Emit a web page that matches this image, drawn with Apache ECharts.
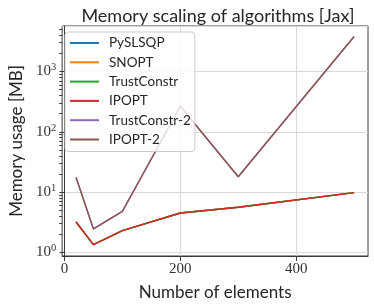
<!DOCTYPE html>
<html>
<head>
<meta charset="utf-8">
<script src="https://cdn.jsdelivr.net/npm/echarts@6/dist/echarts.min.js"></script>
<style>html,body{margin:0;padding:0;background:#fff}#c{width:374px;height:306px}</style>
</head>
<body>
<div id="c"></div>
<script>
const elements = [20, 50, 100, 200, 300, 500];
const pyslsqp = [3.2, 1.35, 2.3, 4.5, 5.6, 9.8];
const snopt = [3.2, 1.35, 2.3, 4.5, 5.6, 9.8];
const trustConstr = [3.2, 1.35, 2.3, 4.5, 5.6, 9.8];
const ipopt = [3.2, 1.35, 2.3, 4.5, 5.6, 9.8];
const trustConstr2 = [17.5, 2.45, 4.8, 265, 18, 3800];
const ipopt2 = [17.5, 2.45, 4.8, 265, 18, 3800];
const seriesNames = ['PySLSQP', 'SNOPT', 'TrustConstr', 'IPOPT', 'TrustConstr-2', 'IPOPT-2'];
const xTicks = [0, 200, 400];
const yMajor = [1, 10, 100, 1000];

const colors = ['#1f77b4', '#ff7f0e', '#2ca02c', '#d62728', '#9467bd', '#8c564b'];
const allSeries = [pyslsqp, snopt, trustConstr, ipopt, trustConstr2, ipopt2];
const yMin = 0.873, yMax = 5660;
const yMinor = [];
yMajor.forEach(d => { for (let k = 2; k <= 9; k++) { const v = k * d; if (v < yMax) yMinor.push(Math.log10(v)); } });

const chart = echarts.init(document.getElementById('c'), null, {renderer: 'canvas'});
const spine = '#3a3a3a';
const grid = '#d9d9d9';
const serif = '"Liberation Serif", "DejaVu Serif", serif';
const sans = 'Lato, "DejaVu Sans", sans-serif';

chart.setOption({
  animation: false,
  backgroundColor: '#fff',
  color: colors,
  title: {
    text: 'Memory scaling of algorithms [Jax]',
    left: 213, top: 2, textAlign: 'center',
    textStyle: {fontFamily: sans, fontSize: 18, fontWeight: 'normal', color: '#262626'}
  },
  grid: {left: 58, right: 6, top: 26, bottom: 50, show: true, borderColor: spine, borderWidth: 1, backgroundColor: 'transparent'},
  legend: {
    orient: 'vertical', left: 65, top: 32,
    data: seriesNames,
    icon: 'rect', itemWidth: 29, itemHeight: 2, itemGap: 3.3,
    padding: [3, 4, 4, 5],
    backgroundColor: 'rgba(255,255,255,0.8)', borderColor: '#cccccc', borderWidth: 1, borderRadius: 3,
    textStyle: {fontFamily: sans, fontSize: 13.5, lineHeight: 16, color: '#262626', padding: [0, 0, 0, 5]}
  },
  xAxis: {
    type: 'value', min: -4, max: 524,
    name: 'Number of elements', nameLocation: 'middle', nameGap: 28,
    nameTextStyle: {fontFamily: sans, fontSize: 17, color: '#262626'},
    axisLine: {show: true, onZero: false, lineStyle: {color: spine, width: 1}},
    axisTick: {show: true, length: 5, customValues: xTicks, lineStyle: {color: spine}},
    axisLabel: {customValues: xTicks, fontFamily: serif, fontSize: 15, color: '#333', margin: 6},
    splitLine: {show: true, lineStyle: {color: grid, width: 1}}
  },
  yAxis: [{
    type: 'log', logBase: 10, min: yMin, max: yMax,
    name: 'Memory usage [MB]', nameLocation: 'middle', nameGap: 36,
    nameTextStyle: {fontFamily: sans, fontSize: 17, color: '#262626'},
    axisLine: {show: true, lineStyle: {color: spine, width: 1}},
    axisTick: {show: true, length: 5, lineStyle: {color: spine}},
    axisLabel: {
      showMinLabel: false, showMaxLabel: false, margin: 6,
      formatter: v => '{b|10}{s|' + Math.round(Math.log10(v)) + '}',
      rich: {
        b: {fontFamily: serif, fontSize: 15, color: '#333'},
        s: {fontFamily: serif, fontSize: 10.5, color: '#333', padding: [0, 0, 8, 0]}
      }
    },
    splitLine: {show: true, lineStyle: {color: grid, width: 1}}
  }, {
    type: 'value', min: Math.log10(yMin), max: Math.log10(yMax), position: 'left',
    axisLine: {show: false},
    axisTick: {show: true, length: 3, customValues: yMinor, lineStyle: {color: spine}},
    axisLabel: {show: false, customValues: yMinor},
    splitLine: {show: false}
  }],
  series: allSeries.map((vals, i) => ({
    name: seriesNames[i], type: 'line', yAxisIndex: 0,
    data: elements.map((x, j) => [x, vals[j]]),
    symbol: 'none', lineStyle: {width: 1.4, color: colors[i]}, itemStyle: {color: colors[i]}
  }))
});
</script>
</body>
</html>
